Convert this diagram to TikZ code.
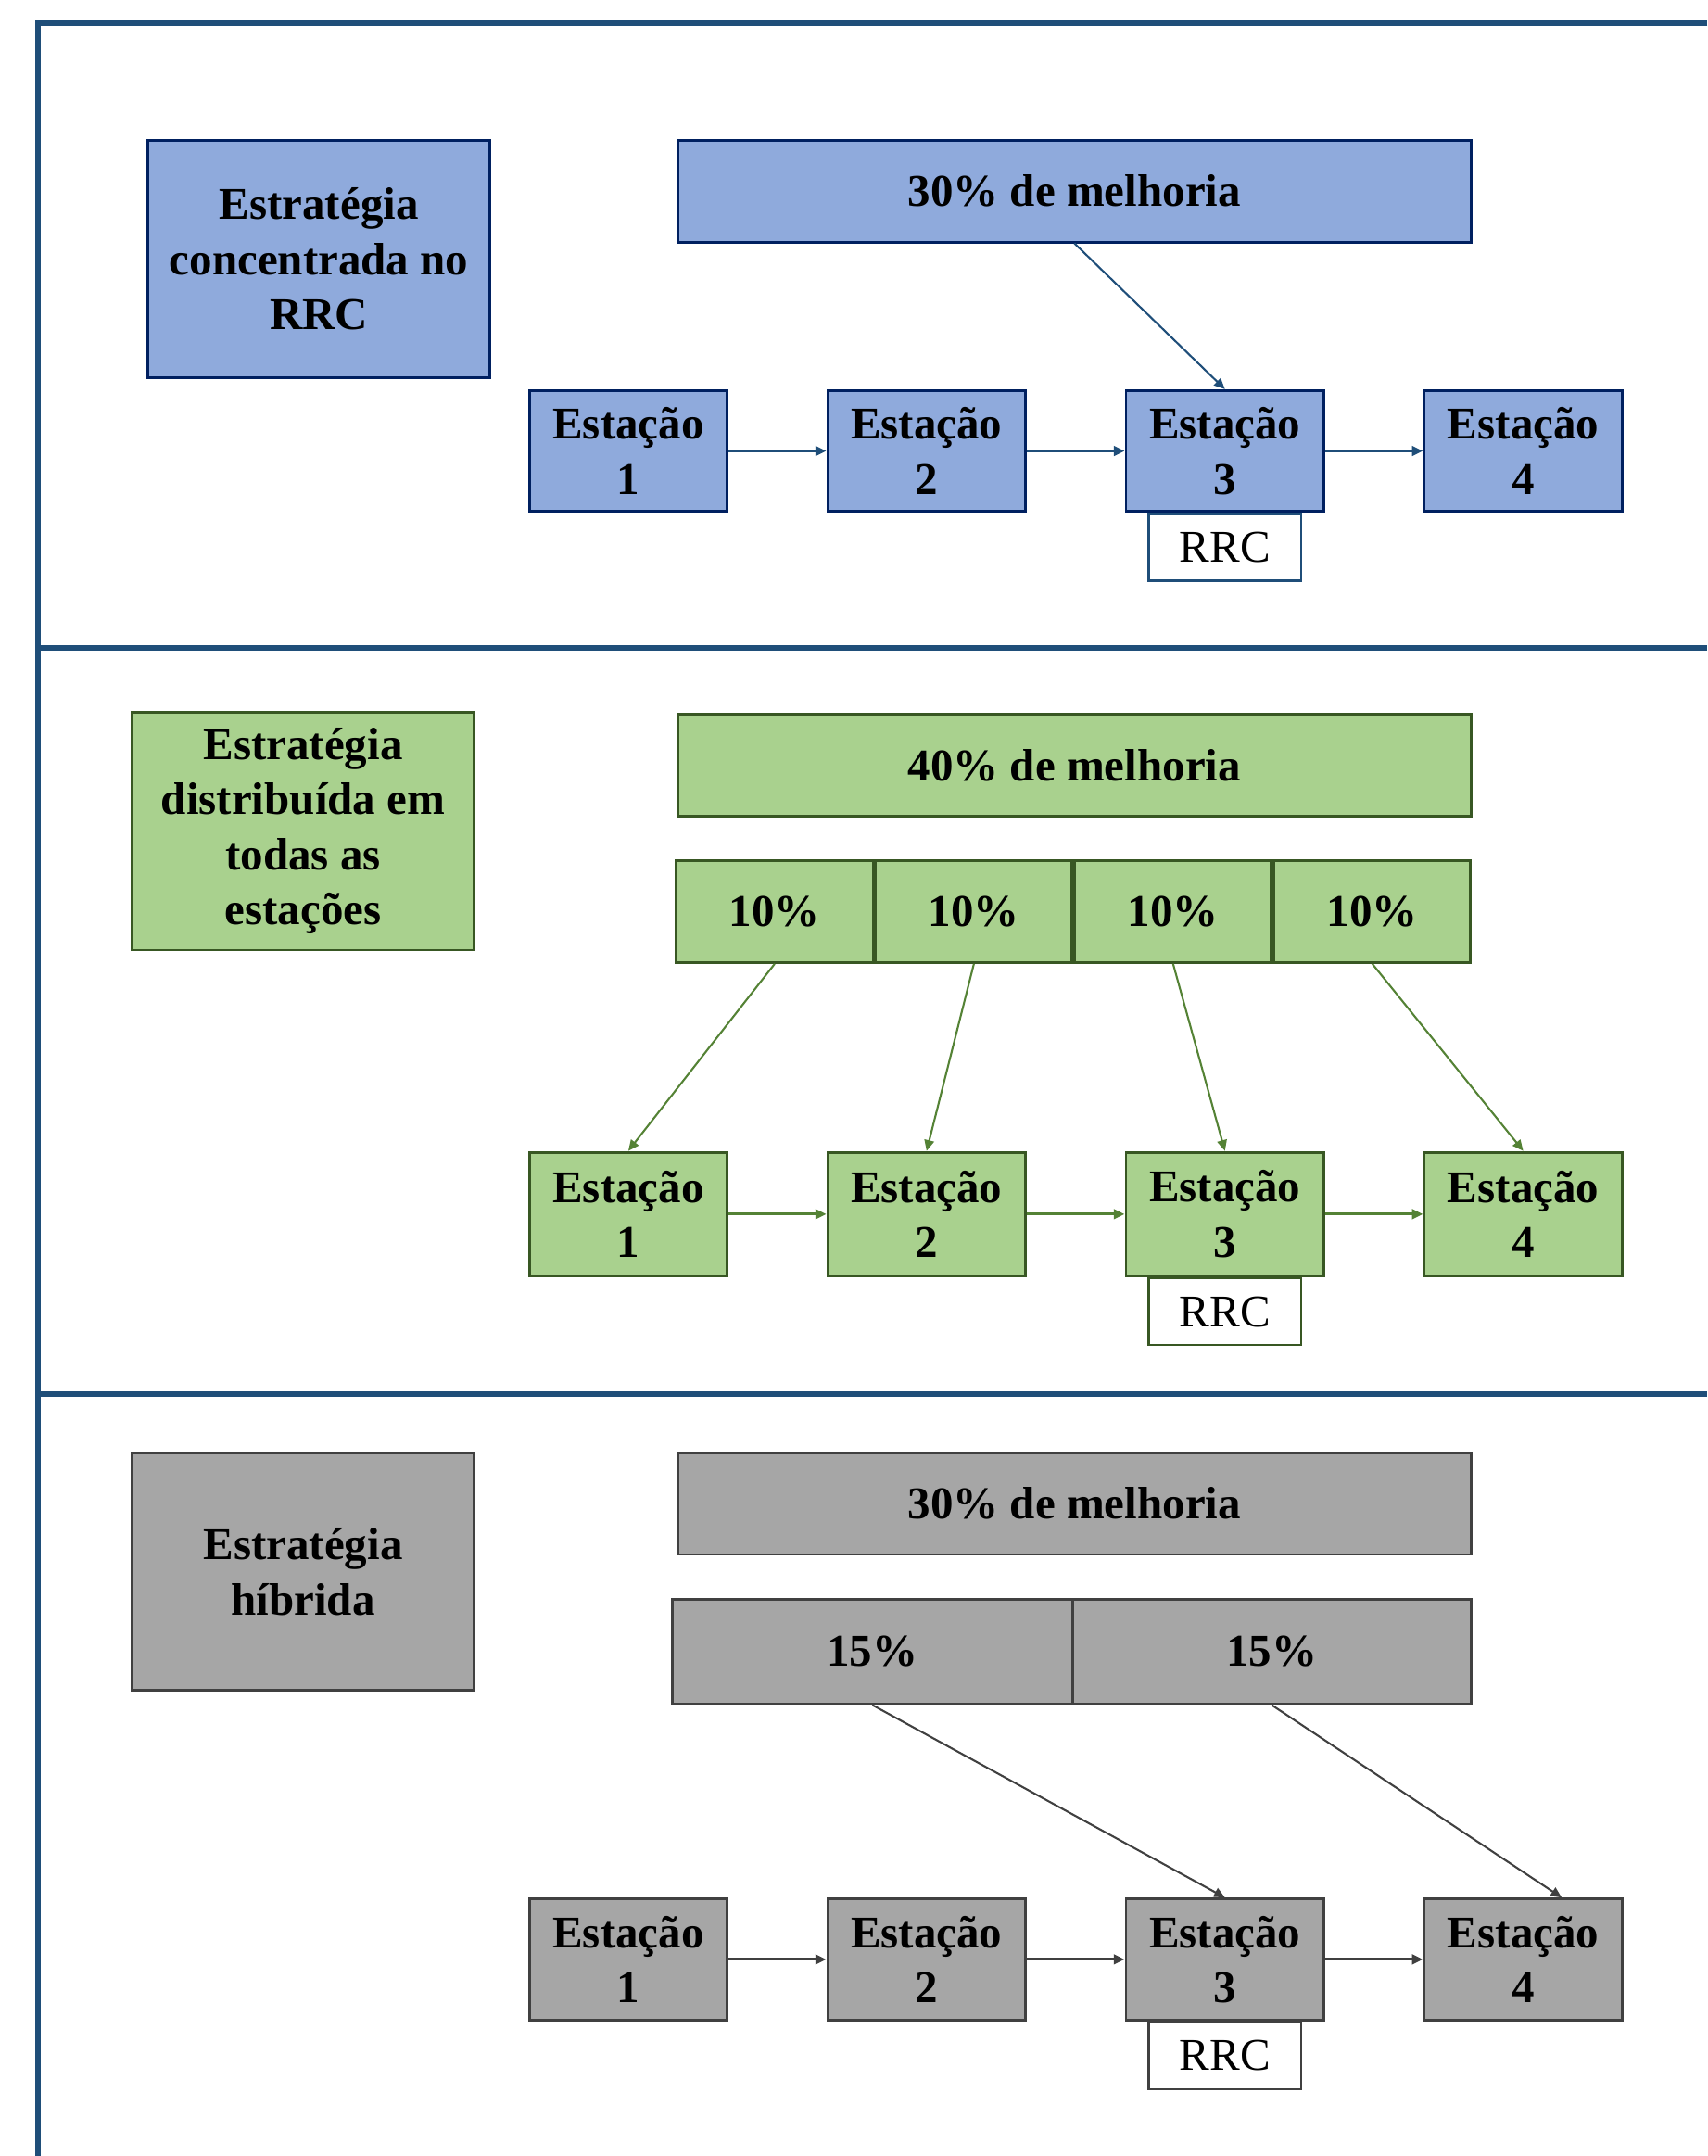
\documentclass[tikz,border=0pt]{standalone}
\usepackage{fontspec}
\setmainfont{Liberation Serif}
\usetikzlibrary{arrows.meta,positioning}
\definecolor{framecol}{RGB}{31,78,121}
\definecolor{bluefill}{RGB}{143,170,220}
\definecolor{blueline}{RGB}{0,32,96}
\definecolor{greenfill}{RGB}{169,209,142}
\definecolor{greenline}{RGB}{56,87,35}
\definecolor{greenarrow}{RGB}{84,130,53}
\definecolor{grayfill}{RGB}{166,166,166}
\definecolor{grayline}{RGB}{64,64,64}
\tikzset{frameline/.style={draw=framecol,line width=2.2pt},
box/.style={draw,line width=1.1pt,inner sep=0pt,align=center,font=\bfseries\fontsize{18.8}{22.8}\selectfont},
bluebox/.style={box,fill=bluefill,draw=blueline},
greenbox/.style={box,fill=greenfill,draw=greenline},
graybox/.style={box,fill=grayfill,draw=grayline},
station/.style={minimum width=2.88cm,minimum height=1.76cm},
bigbox/.style={minimum width=11.54cm,minimum height=1.48cm},
stratbox/.style={minimum width=4.98cm,minimum height=3.46cm},
rrcbox/.style={draw,line width=0.9pt,inner sep=0pt,minimum width=2.22cm,minimum height=0.97cm,anchor=north,font=\fontsize{18.8}{22.8}\selectfont},
link/.style={-{Triangle[length=4.5pt,width=4pt]},line width=1.1pt},
slant/.style={-{Triangle[length=4.5pt,width=4pt]},line width=0.8pt}}
\begin{document}
\begin{tikzpicture}[x=0.02cm,y=-0.02cm]
\useasboundingbox (0,0) rectangle (1242,1568);
\draw[frameline] (1242,17) -| (27.5,1568);
\draw[frameline] (27.5,471) -- (1242,471);
\draw[frameline] (27.5,1014) -- (1242,1014);

\node[bluebox,stratbox] (strat1) at (232,188.5) {Estratégia\\concentrada no\\RRC};
\node[bluebox,bigbox] (gain1) at (781.5,139) {30\% de melhoria};
\foreach \i/\x in {1/457,2/674,3/891,4/1108}
  \node[bluebox,station] (a\i) at (\x,328) {Estação\\\i};
\node[rrcbox,draw=framecol] (rrc1) at (a3.south) {RRC};
\foreach \i/\j in {1/2,2/3,3/4}
  \draw[link,framecol] (a\i) -- (a\j);
\draw[slant,framecol] (gain1.south) -- (a3.north);

\node[greenbox,stratbox] (strat2) at (220.5,604.5) {Estratégia\\distribuída em\\todas as\\estações};
\node[greenbox,bigbox] (gain2) at (781.5,556.5) {40\% de melhoria};
\node[greenbox,minimum width=2.86cm,minimum height=1.48cm] (p1) at (563.5,663) {10\%};
\foreach \i/\j in {1/2,2/3,3/4}
  \node[greenbox,minimum width=2.86cm,minimum height=1.48cm,right=0pt of p\i] (p\j) {10\%};
\foreach \i/\x in {1/457,2/674,3/891,4/1108}
  \node[greenbox,station,minimum height=1.8cm] (b\i) at (\x,883) {Estação\\\i};
\node[rrcbox,draw=greenline] (rrc2) at (b3.south) {RRC};
\foreach \i/\j in {1/2,2/3,3/4}
  \draw[link,greenarrow] (b\i) -- (b\j);
\foreach \i in {1,...,4}
  \draw[slant,greenarrow] (p\i.south) -- (b\i.north);

\node[graybox,stratbox] (strat3) at (220.5,1143) {Estratégia\\híbrida};
\node[graybox,bigbox] (gain3) at (781.5,1093.5) {30\% de melhoria};
\node[graybox,minimum width=5.82cm,minimum height=1.52cm] (h1) at (634.5,1201) {15\%};
\node[graybox,minimum width=5.8cm,minimum height=1.52cm] (h2) at (925,1201) {15\%};
\foreach \i/\x in {1/457,2/674,3/891,4/1108}
  \node[graybox,station] (c\i) at (\x,1425) {Estação\\\i};
\node[rrcbox,draw=grayline] (rrc3) at (c3.south) {RRC};
\foreach \i/\j in {1/2,2/3,3/4}
  \draw[link,grayline] (c\i) -- (c\j);
\draw[slant,grayline] (h1.south) -- (c3.north);
\draw[slant,grayline] (h2.south) -- ([xshift=0.56cm]c4.north);
\end{tikzpicture}
\end{document}
